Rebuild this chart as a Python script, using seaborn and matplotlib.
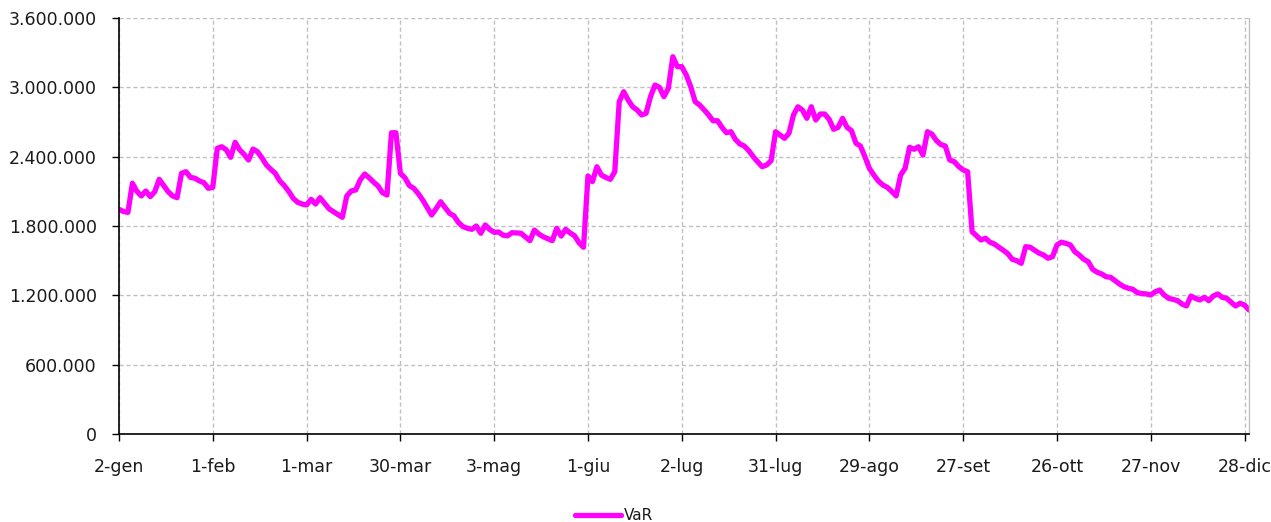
import numpy as np
import pandas as pd
import matplotlib
matplotlib.use("Agg")
import matplotlib.pyplot as plt
from matplotlib.lines import Line2D
from matplotlib.ticker import FuncFormatter
import seaborn as sns

# x-axis labels (one every 21 trading days)
tick_labels = ["2-gen", "1-feb", "1-mar", "30-mar", "3-mag", "1-giu", "2-lug",
               "31-lug", "29-ago", "27-set", "26-ott", "27-nov", "28-dic"]

# daily VaR values, in thousands, split by label interval
seg01 = [1945, 1925, 1918, 2170, 2100, 2060, 2103, 2054, 2097, 2204, 2150, 2097, 2060, 2045, 2256, 2270, 2221, 2213, 2190, 2175, 2126]
seg02 = [2135, 2472, 2486, 2460, 2394, 2524, 2460, 2420, 2371, 2466, 2443, 2390, 2328, 2290, 2255, 2190, 2150, 2100, 2040, 2005, 1990]
seg03 = [1982, 2031, 1990, 2045, 1997, 1950, 1924, 1900, 1875, 2060, 2103, 2112, 2198, 2250, 2218, 2180, 2146, 2088, 2068, 2607, 2607]
seg04 = [2256, 2218, 2150, 2126, 2080, 2025, 1960, 1895, 1950, 2010, 1960, 1910, 1887, 1830, 1795, 1780, 1771, 1800, 1737, 1809, 1770]
seg05 = [1745, 1748, 1720, 1715, 1742, 1740, 1737, 1705, 1673, 1765, 1730, 1707, 1690, 1673, 1780, 1713, 1771, 1740, 1715, 1655, 1616]
seg06 = [2233, 2184, 2313, 2241, 2220, 2204, 2270, 2876, 2962, 2890, 2832, 2804, 2761, 2775, 2919, 3020, 3000, 2919, 2992, 3265, 3179]
seg07 = [3179, 3107, 3006, 2876, 2847, 2805, 2761, 2711, 2711, 2654, 2607, 2616, 2550, 2510, 2492, 2452, 2400, 2355, 2313, 2328, 2365]
seg08 = [2616, 2588, 2559, 2602, 2760, 2832, 2804, 2732, 2832, 2717, 2769, 2769, 2723, 2637, 2654, 2732, 2654, 2625, 2516, 2492, 2400]
seg09 = [2299, 2241, 2190, 2155, 2135, 2100, 2060, 2241, 2299, 2481, 2464, 2486, 2414, 2616, 2595, 2540, 2505, 2492, 2371, 2357, 2315]
seg10 = [2285, 2270, 1751, 1715, 1679, 1694, 1660, 1644, 1616, 1590, 1560, 1512, 1500, 1477, 1621, 1616, 1590, 1565, 1549, 1521, 1534]
seg11 = [1636, 1660, 1650, 1636, 1578, 1549, 1512, 1491, 1425, 1400, 1385, 1361, 1356, 1327, 1298, 1275, 1261, 1252, 1223, 1215, 1212]
seg12 = [1203, 1231, 1246, 1203, 1174, 1165, 1154, 1125, 1108, 1194, 1174, 1160, 1183, 1154, 1194, 1212, 1183, 1174, 1140, 1108, 1131]
seg13 = [1116, 1073]

segments = [seg01, seg02, seg03, seg04, seg05, seg06, seg07, seg08, seg09,
            seg10, seg11, seg12, seg13]
var_k = [v for s in segments for v in s]
label_every = len(seg01)

df = pd.DataFrame({"day": np.arange(len(var_k)),
                   "VaR": np.array(var_k, dtype=float) * 1000})

sns.set_style("white")
plt.rcParams["font.family"] = ["DejaVu Sans"]

W, H = 1271, 522
fig = plt.figure(figsize=(W / 100, H / 100), dpi=100)
ax = fig.add_axes([119 / W, 1 - 434 / H, 1130 / W, 416 / H])
ax.set_axisbelow(True)

color = "#FF00FF"
sns.lineplot(data=df, x="day", y="VaR", ax=ax, color=color, linewidth=3.8,
             legend=False, solid_capstyle="round", solid_joinstyle="round")

ax.set_xlim(0, len(var_k) - 1)
ax.set_ylim(0, 3600000)
ax.set_xticks(np.arange(0, len(var_k), label_every)[:len(tick_labels)])
ax.set_xticklabels(tick_labels)
ax.set_yticks(np.arange(0, 3600001, 600000))
ax.yaxis.set_major_formatter(
    FuncFormatter(lambda v, p: f"{int(round(v)):,}".replace(",", ".")))
ax.set_xlabel("")
ax.set_ylabel("")

ax.grid(True, color="#c0c0c0", linestyle=(0, (3, 2)), linewidth=1)
for side in ["left", "bottom"]:
    ax.spines[side].set_color("black")
    ax.spines[side].set_linewidth(1.2)
ax.spines["top"].set_visible(False)
ax.spines["right"].set_color("#c0c0c0")
ax.spines["right"].set_linewidth(1)

ax.tick_params(axis="both", which="major", direction="out", length=5,
               width=1, color="black", labelsize=12.5, labelcolor="#1a1a1a")
ax.tick_params(axis="y", pad=11)
ax.tick_params(axis="x", pad=12, bottom=True)
ax.tick_params(axis="y", left=True)

handle = Line2D([0], [0], color=color, linewidth=3.8, solid_capstyle="round")
fig.legend(handles=[handle], labels=["VaR"], loc="center",
           bbox_to_anchor=(614 / W, 1 - 516 / H), frameon=False,
           handlelength=3.0, handletextpad=0.15, fontsize=11,
           labelcolor="#1a1a1a")

fig.savefig("out.png", dpi=100)
